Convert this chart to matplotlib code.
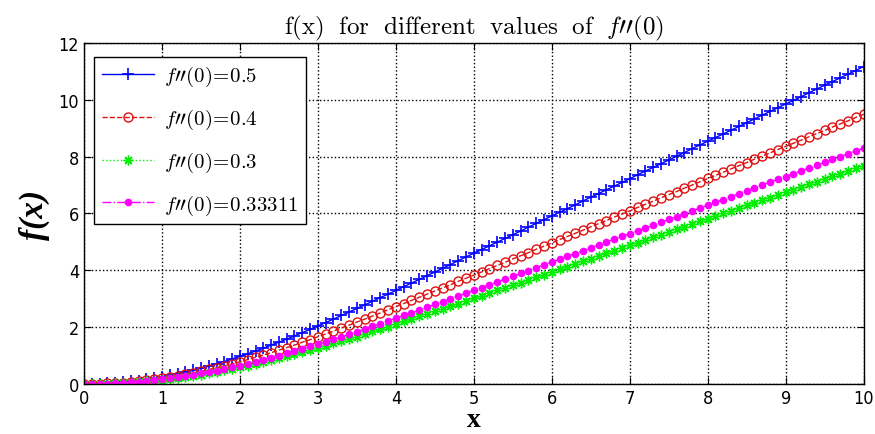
import matplotlib
matplotlib.use("Agg")
import matplotlib.pyplot as plt
import numpy as np

plt.rcParams['mathtext.fontset'] = 'cm'

# sample positions along x (step 0.1)
x = np.linspace(0, 10, 101)

# values, one per marker
f_05 = [0.00, 0.00, 0.01, 0.02, 0.04, 0.06, 0.09, 0.12, 0.16, 0.20,
        0.25, 0.30, 0.36, 0.42, 0.48, 0.55, 0.63, 0.71, 0.79, 0.88,
        0.97, 1.06, 1.16, 1.26, 1.37, 1.47, 1.58, 1.69, 1.81, 1.92,
        2.04, 2.16, 2.28, 2.41, 2.53, 2.66, 2.78, 2.91, 3.04, 3.16,
        3.29, 3.42, 3.55, 3.68, 3.81, 3.94, 4.07, 4.20, 4.34, 4.47,
        4.60, 4.73, 4.86, 4.99, 5.12, 5.25, 5.38, 5.52, 5.65, 5.78,
        5.91, 6.04, 6.17, 6.30, 6.44, 6.57, 6.70, 6.83, 6.96, 7.09,
        7.22, 7.36, 7.49, 7.62, 7.75, 7.88, 8.01, 8.14, 8.28, 8.41,
        8.54, 8.67, 8.80, 8.93, 9.06, 9.19, 9.33, 9.46, 9.59, 9.72,
        9.85, 9.98, 10.11, 10.25, 10.38, 10.51, 10.64, 10.77, 10.90, 11.03,
        11.17]
f_04 = [0.00, 0.00, 0.01, 0.02, 0.03, 0.05, 0.07, 0.10, 0.13, 0.16,
        0.20, 0.24, 0.29, 0.34, 0.39, 0.45, 0.51, 0.57, 0.64, 0.71,
        0.78, 0.86, 0.94, 1.02, 1.10, 1.19, 1.28, 1.37, 1.47, 1.56,
        1.66, 1.76, 1.86, 1.97, 2.07, 2.18, 2.28, 2.39, 2.50, 2.61,
        2.72, 2.83, 2.94, 3.05, 3.16, 3.27, 3.38, 3.49, 3.61, 3.72,
        3.83, 3.94, 4.06, 4.17, 4.28, 4.40, 4.51, 4.62, 4.74, 4.85,
        4.96, 5.08, 5.19, 5.30, 5.41, 5.53, 5.64, 5.75, 5.87, 5.98,
        6.09, 6.21, 6.32, 6.43, 6.55, 6.66, 6.77, 6.89, 7.00, 7.11,
        7.23, 7.34, 7.45, 7.57, 7.68, 7.79, 7.91, 8.02, 8.13, 8.25,
        8.36, 8.47, 8.58, 8.70, 8.81, 8.92, 9.04, 9.15, 9.26, 9.38,
        9.49]
f_03 = [0.00, 0.00, 0.01, 0.01, 0.02, 0.04, 0.05, 0.07, 0.10, 0.12,
        0.15, 0.18, 0.22, 0.25, 0.29, 0.33, 0.38, 0.43, 0.48, 0.53,
        0.59, 0.65, 0.71, 0.77, 0.84, 0.90, 0.97, 1.04, 1.12, 1.19,
        1.27, 1.35, 1.43, 1.51, 1.59, 1.67, 1.76, 1.85, 1.93, 2.02,
        2.11, 2.20, 2.29, 2.38, 2.47, 2.56, 2.65, 2.74, 2.83, 2.92,
        3.02, 3.11, 3.20, 3.29, 3.39, 3.48, 3.57, 3.67, 3.76, 3.85,
        3.95, 4.04, 4.13, 4.22, 4.32, 4.41, 4.51, 4.60, 4.69, 4.79,
        4.88, 4.97, 5.07, 5.16, 5.25, 5.35, 5.44, 5.53, 5.63, 5.72,
        5.81, 5.91, 6.00, 6.09, 6.19, 6.28, 6.37, 6.47, 6.56, 6.65,
        6.75, 6.84, 6.94, 7.03, 7.12, 7.22, 7.31, 7.40, 7.50, 7.59,
        7.68]
f_033311 = [0.00, 0.00, 0.01, 0.01, 0.03, 0.04, 0.06, 0.08, 0.11, 0.13,
            0.17, 0.20, 0.24, 0.28, 0.32, 0.37, 0.42, 0.47, 0.53, 0.59,
            0.65, 0.72, 0.78, 0.85, 0.93, 1.00, 1.08, 1.15, 1.23, 1.32,
            1.40, 1.49, 1.57, 1.66, 1.75, 1.84, 1.94, 2.03, 2.12, 2.22,
            2.31, 2.41, 2.50, 2.60, 2.70, 2.80, 2.90, 2.99, 3.09, 3.19,
            3.29, 3.39, 3.49, 3.59, 3.69, 3.79, 3.89, 3.99, 4.09, 4.19,
            4.29, 4.39, 4.49, 4.59, 4.69, 4.79, 4.89, 4.99, 5.09, 5.19,
            5.29, 5.39, 5.49, 5.59, 5.69, 5.79, 5.89, 5.99, 6.09, 6.19,
            6.29, 6.39, 6.49, 6.59, 6.70, 6.80, 6.90, 7.00, 7.10, 7.20,
            7.30, 7.40, 7.50, 7.60, 7.70, 7.80, 7.90, 8.00, 8.10, 8.20,
            8.30]

labels = [r"$f\prime\prime(0)\!=\!0.5$", r"$f\prime\prime(0)\!=\!0.4$",
          r"$f\prime\prime(0)\!=\!0.3$", r"$f\prime\prime(0)\!=\!0.33311$"]

fig = plt.figure(figsize=(8.75, 4.35), dpi=100)
ax = fig.add_axes([0.096, 0.115, 0.891, 0.784])

ax.plot(x, f_05, color='#0000ff', ls='-', lw=1, marker='+', ms=9, mew=1.2, label=labels[0])
ax.plot(x, f_04, color='#e01010', ls='--', lw=1, marker='o', ms=6.5, mfc='none', mew=1, label=labels[1])
ax.plot(x, f_03, color='#00ee00', ls=':', lw=1, marker=(8, 2, 0), ms=7, mew=1, label=labels[2])
ax.plot(x, f_033311, color='#ff00ff', ls='-.', lw=1, marker='o', ms=5.5, mew=0, label=labels[3])

ax.set_xlim(0, 10)
ax.set_ylim(0, 12)
ax.set_xticks(range(0, 11))
ax.set_yticks(range(0, 13, 2))
ax.grid(True, color='black', ls=':', lw=1)
ax.tick_params(direction='in', top=True, right=True, length=5, labelsize=13)
for lab in ax.get_xticklabels() + ax.get_yticklabels():
    lab.set_family('DejaVu Sans')
    lab.set_stretch('condensed')
for s in ax.spines.values():
    s.set_linewidth(1)

ax.set_title(r"$\mathrm{f(x)\ \ for\ \ different\ \ values\ \ of\ \ }f\prime\prime(0)$", fontsize=18, pad=7)
ax.set_xlabel("x", fontsize=20, fontweight='bold', family='Liberation Serif', labelpad=0)
ax.set_ylabel("f(x)", fontsize=24, fontweight='bold', style='italic', family='Liberation Serif', labelpad=6)

leg = ax.legend(loc='upper left', fontsize=15, handlelength=2.5, labelspacing=0.9,
                fancybox=False, edgecolor='black', framealpha=1, borderpad=0.35,
                handletextpad=0.5, bbox_to_anchor=(0.0, 0.99))
leg.get_frame().set_linewidth(1)

fig.savefig("out.png", dpi=100)
